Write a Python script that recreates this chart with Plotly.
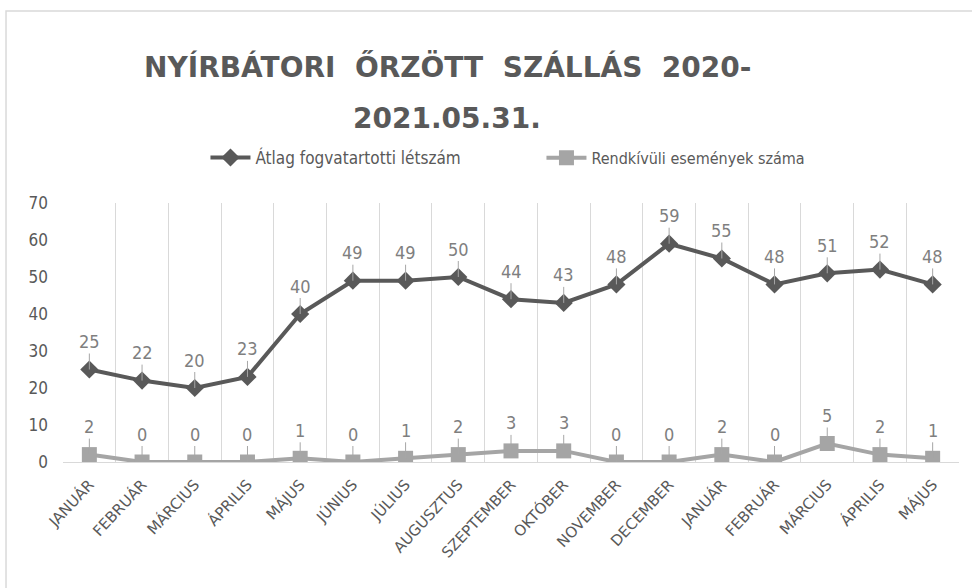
import plotly.graph_objects as go

months = ["JANUÁR", "FEBRUÁR", "MÁRCIUS", "ÁPRILIS", "MÁJUS", "JÚNIUS", "JÚLIUS",
          "AUGUSZTUS", "SZEPTEMBER", "OKTÓBER", "NOVEMBER", "DECEMBER",
          "JANUÁR", "FEBRUÁR", "MÁRCIUS", "ÁPRILIS", "MÁJUS"]
atlag = [25, 22, 20, 23, 40, 49, 49, 50, 44, 43, 48, 59, 55, 48, 51, 52, 48]
rendkivuli = [2, 0, 0, 0, 1, 0, 1, 2, 3, 3, 0, 0, 2, 0, 5, 2, 1]
y_ticks = [0, 10, 20, 30, 40, 50, 60, 70]

x = list(range(len(months)))
FONT = "Liberation Sans Narrow, DejaVu Sans Condensed, Arial Narrow, Roboto, sans-serif"
DARK = "#595959"
LIGHT = "#a5a5a5"

fig = go.Figure()
fig.add_trace(go.Scatter(
    x=x, y=atlag, name="Átlag fogvatartotti létszám", mode="lines+markers",
    line=dict(color=DARK, width=4), marker=dict(symbol="diamond", size=14, color=DARK),
    legend="legend"))
fig.add_trace(go.Scatter(
    x=x, y=rendkivuli, name="Rendkívüli események száma", mode="lines+markers",
    line=dict(color=LIGHT, width=4), marker=dict(symbol="square", size=15, color=LIGHT),
    legend="legend2"))

annotations = []
for series in (atlag, rendkivuli):
    for xi, v in zip(x, series):
        annotations.append(dict(
            x=xi, y=v, xref="x", yref="y", text=str(v), showarrow=True,
            arrowhead=0, arrowwidth=1, arrowcolor="#a6a6a6", ax=0, ay=-28,
            font=dict(family=FONT, size=18, color="#7f7f7f")))

TITLE_FONT = dict(family="DejaVu Sans, sans-serif", size=28, color=DARK)
annotations.append(dict(
    x=0.4286, y=1.525, xref="paper", yref="paper", showarrow=False,
    xanchor="center", yanchor="middle",
    text="<b>NYÍRBÁTORI  ŐRZÖTT  SZÁLLÁS  2020-</b>",
    font=TITLE_FONT))
annotations.append(dict(
    x=0.4286, y=1.328, xref="paper", yref="paper", showarrow=False,
    xanchor="center", yanchor="middle",
    text="<b>2021.05.31.</b>",
    font=TITLE_FONT))

leg_common = dict(orientation="h", yanchor="middle", y=1.174, xanchor="left",
                  itemwidth=40, bgcolor="rgba(0,0,0,0)", borderwidth=0)

fig.update_layout(
    width=972, height=588,
    margin=dict(l=63, r=13, t=203, b=126),
    paper_bgcolor="white", plot_bgcolor="white",
    showlegend=True,
    legend=dict(x=0.159, font=dict(family=FONT, size=17, color=DARK), **leg_common),
    legend2=dict(x=0.534, font=dict(family=FONT, size=16, color=DARK), **leg_common),
    annotations=annotations,
    shapes=[dict(type="rect", xref="paper", yref="paper",
                 x0=-0.0636, x1=1.02, y0=-0.49, y1=1.741,
                 line=dict(color="#d9d9d9", width=1.5), fillcolor="rgba(0,0,0,0)", layer="below")],
)
fig.update_xaxes(
    range=[-0.5, len(months) - 0.5], tickmode="array", tickvals=x, ticktext=months,
    tickangle=-47, showgrid=False, zeroline=False, showline=True, linecolor="#d9d9d9",
    linewidth=1, ticks="", ticklabelstandoff=7,
    tickfont=dict(family="DejaVu Sans, sans-serif", size=15, color=DARK),
    minor=dict(tickmode="array", tickvals=[i - 0.5 for i in range(len(months) + 1)],
               showgrid=True, gridcolor="#d9d9d9", gridwidth=1, ticks=""))
fig.update_yaxes(
    range=[0, 70], tickmode="array", tickvals=y_ticks, showgrid=False, zeroline=False,
    showline=False, ticks="", ticklabelstandoff=14,
    tickfont=dict(family=FONT, size=17, color=DARK))

fig.write_html("out.html", config={"displayModeBar": False},
               post_script="document.body.style.margin='0';")
